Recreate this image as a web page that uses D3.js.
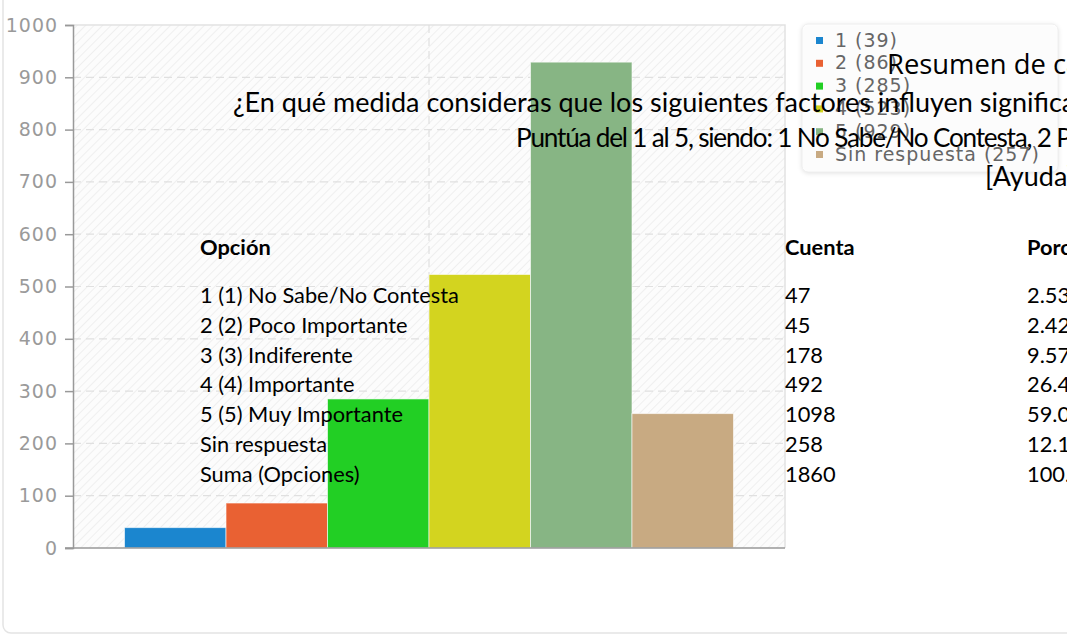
<!DOCTYPE html>
<html>
<head>
<meta charset="utf-8">
<script src="https://cdn.jsdelivr.net/npm/d3@7"></script>
<style>
  html, body { margin: 0; padding: 0; background: #fff; overflow: hidden; }
  svg { display: block; }
</style>
</head>
<body>
<svg id="chart" width="1067" height="637"></svg>
<script>
// Response counts per answer option
const seriesKeys = ["1", "2", "3", "4", "5", "Sin respuesta"];
const seriesValues = [39, 86, 285, 523, 929, 257];
const seriesColors = ["#1b86cf", "#e96133", "#22cf24", "#d3d41f", "#87b584", "#c8aa82"];
const categories = [""];
const yTicks = [0, 100, 200, 300, 400, 500, 600, 700, 800, 900, 1000];

// Summary table
const tableHeaders = ["Opción", "Cuenta", "Porc"];
const tableOptions = ["1 (1) No Sabe/No Contesta", "2 (2) Poco Importante", "3 (3) Indiferente",
  "4 (4) Importante", "5 (5) Muy Importante", "Sin respuesta", "Suma (Opciones)"];
const tableCounts = ["47", "45", "178", "492", "1098", "258", "1860"];
const tablePercents = ["2.53", "2.42", "9.57", "26.4", "59.0", "12.1", "100."];

const titleLines = [
  "Resumen de campo para",
  "¿En qué medida consideras que los siguientes factores influyen significativamente",
  "Puntúa del 1 al 5, siendo: 1 No Sabe/No Contesta, 2 Poco Importante, 3 Indiferente",
  "[Ayuda]"
];

const svg = d3.select("#chart");
const W = 1067, H = 637;
const plot = { left: 73, right: 785, top: 25, bottom: 548 };

// ---- text sizing helper --------------------------------------------------
// Font size that makes the first n characters of str span w pixels,
// given a fixed letter spacing ls.
function fitSize(str, family, weight, n, w, ls) {
  const t = svg.append("text").attr("x", 0).attr("y", -500)
    .attr("font-family", family).attr("font-weight", weight || "normal")
    .attr("font-size", 100).style("white-space", "pre").text(str);
  const node = t.node();
  const off = (n >= str.length ? node.getComputedTextLength() : node.getStartPositionOfChar(n).x) / 100;
  t.remove();
  return (w - n * ls) / off;
}

// Card frame around the chart
svg.append("rect")
  .attr("x", 3).attr("y", -20).attr("width", W + 20).attr("height", 653)
  .attr("rx", 8).attr("fill", "#fff").attr("stroke", "#e4e4e4").attr("stroke-width", 1.5);

// Diagonal hatching of the plot background
const defs = svg.append("defs");
const pat = defs.append("pattern")
  .attr("id", "hatch").attr("patternUnits", "userSpaceOnUse")
  .attr("width", 6).attr("height", 6)
  .attr("patternTransform", "rotate(45)");
pat.append("rect").attr("width", 6).attr("height", 6).attr("fill", "#fcfcfc");
pat.append("line").attr("x1", 0).attr("y1", 0).attr("x2", 0).attr("y2", 6)
  .attr("stroke", "#ececec").attr("stroke-width", 1.6);

const y = d3.scaleLinear().domain([0, 1000]).range([plot.bottom, plot.top]);
const x0 = d3.scaleBand().domain(categories).range([plot.left, plot.right]).paddingOuter(0.0846).paddingInner(0);
const x1 = d3.scaleBand().domain(seriesKeys).range([0, x0.bandwidth()]).padding(0);

svg.append("rect")
  .attr("x", plot.left).attr("y", plot.top)
  .attr("width", plot.right - plot.left).attr("height", plot.bottom - plot.top)
  .attr("fill", "url(#hatch)");

// Plot frame (top and right)
svg.append("path")
  .attr("d", `M${plot.left},${plot.top}H${plot.right}V${plot.bottom}`)
  .attr("fill", "none").attr("stroke", "#e2e2e2").attr("stroke-width", 1.5);

// Horizontal dashed grid
svg.append("g").selectAll("line").data(yTicks.filter(d => d > 0 && d < 1000)).join("line")
  .attr("x1", plot.left).attr("x2", plot.right)
  .attr("y1", d => y(d)).attr("y2", d => y(d))
  .attr("stroke", "#e0e0e0").attr("stroke-width", 1.2).attr("stroke-dasharray", "8,5");

// Vertical dashed grid at category centre
svg.append("g").selectAll("line").data(categories).join("line")
  .attr("x1", d => x0(d) + x0.bandwidth() / 2).attr("x2", d => x0(d) + x0.bandwidth() / 2)
  .attr("y1", plot.top).attr("y2", plot.bottom)
  .attr("stroke", "#e0e0e0").attr("stroke-width", 1.2).attr("stroke-dasharray", "8,5");

// Bars
const barData = seriesKeys.map((k, i) => ({ key: k, value: seriesValues[i], color: seriesColors[i] }));
svg.append("g").selectAll("rect").data(barData).join("rect")
  .attr("x", d => x0(categories[0]) + x1(d.key))
  .attr("y", d => y(d.value))
  .attr("width", x1.bandwidth())
  .attr("height", d => y(0) - y(d.value))
  .attr("fill", d => d.color)
  .attr("stroke", "rgba(255,255,255,0.6)").attr("stroke-width", 1);

// Chart label font (legend + axis)
const lblLs = 1.0;
const lblSize = Math.min(20, Math.max(14, fitSize("Sin respuesta (257)", "DejaVu Sans", "normal", 19, 205, lblLs)));

// Y axis
const yAxis = d3.axisLeft(y).tickValues(yTicks).tickSize(8)
  .tickPadding(8 - lblLs).tickFormat(d3.format("d"));
const gy = svg.append("g").attr("transform", `translate(${plot.left},0)`).call(yAxis);
gy.select(".domain").attr("stroke", "#999").attr("stroke-width", 1.5);
gy.selectAll(".tick line").attr("stroke", "#999").attr("stroke-width", 1.5);
gy.selectAll(".tick text").attr("fill", "#9a9a9a").attr("font-family", "DejaVu Sans")
  .attr("font-size", lblSize).attr("letter-spacing", lblLs);

// X baseline
svg.append("line")
  .attr("x1", plot.left - 8).attr("x2", plot.right)
  .attr("y1", y(0)).attr("y2", y(0))
  .attr("stroke", "#999").attr("stroke-width", 1.5);

// Legend
const lg = svg.append("g").attr("transform", "translate(802,24)");
lg.append("rect").attr("width", 256).attr("height", 148).attr("rx", 6)
  .attr("fill", "rgba(255,255,255,0.85)").attr("stroke", "#eee")
  .style("filter", "drop-shadow(0px 1px 2px rgba(0,0,0,0.12))");
const li = lg.selectAll("g.item").data(barData).join("g")
  .attr("class", "item")
  .attr("transform", (d, i) => `translate(0,${16 + i * 22.8})`);
li.append("rect").attr("x", 14).attr("y", -3).attr("width", 7).attr("height", 7).attr("fill", d => d.color);
li.append("text").attr("x", 33).attr("y", 0).attr("dy", "0.35em")
  .attr("font-family", "DejaVu Sans").attr("font-size", lblSize).attr("letter-spacing", lblLs)
  .attr("fill", "#666")
  .text(d => `${d.key} (${d.value})`);

// Title lines drawn over the chart
const sans = "Lato";
const clamp = (v, lo, hi) => Math.min(hi, Math.max(lo, v));
const s0 = clamp(fitSize(titleLines[0], "Open Sans", "normal", 11, 166, 0), 22, 34);
const s1 = clamp(fitSize(titleLines[1], sans, "normal", titleLines[1].indexOf("signific"), 747, 0), 18, 30);
const ls2 = -1.2;
const s2 = clamp(fitSize(titleLines[2], sans, "normal", titleLines[2].indexOf("2 Poco"), 521, ls2), 18, 30);

svg.append("text").attr("x", 887).attr("y", 74).attr("font-family", "Open Sans")
  .attr("font-size", s0).attr("fill", "#000").text(titleLines[0]);
svg.append("text").attr("x", 233).attr("y", 112).attr("font-family", sans)
  .attr("font-size", s1).attr("fill", "#000").text(titleLines[1]);
svg.append("text").attr("x", 516).attr("y", 147).attr("font-family", sans)
  .attr("font-size", s2).attr("letter-spacing", ls2).attr("fill", "#000").text(titleLines[2]);
svg.append("text").attr("x", 985).attr("y", 186).attr("font-family", sans)
  .attr("font-size", s1).attr("fill", "#000").text(titleLines[3]);

// Summary table
const st = clamp(fitSize(tableOptions[0], sans, "normal", tableOptions[0].length, 259, 0), 16, 26);
const colX = [200, 785, 1027];
const tbl = svg.append("g").attr("font-family", sans)
  .attr("font-size", st).attr("fill", "#000");
tbl.selectAll("text.h").data(tableHeaders).join("text").attr("class", "h")
  .attr("x", (d, i) => colX[i]).attr("y", 255).attr("font-weight", "bold").text(d => d);
const rowY = i => 303 + i * 29.8;
tbl.selectAll("text.o").data(tableOptions).join("text").attr("class", "o")
  .attr("x", colX[0]).attr("y", (d, i) => rowY(i)).text(d => d);
tbl.selectAll("text.c").data(tableCounts).join("text").attr("class", "c")
  .attr("x", colX[1]).attr("y", (d, i) => rowY(i)).text(d => d);
tbl.selectAll("text.p").data(tablePercents).join("text").attr("class", "p")
  .attr("x", colX[2]).attr("y", (d, i) => rowY(i)).text(d => d);
</script>
</body>
</html>
